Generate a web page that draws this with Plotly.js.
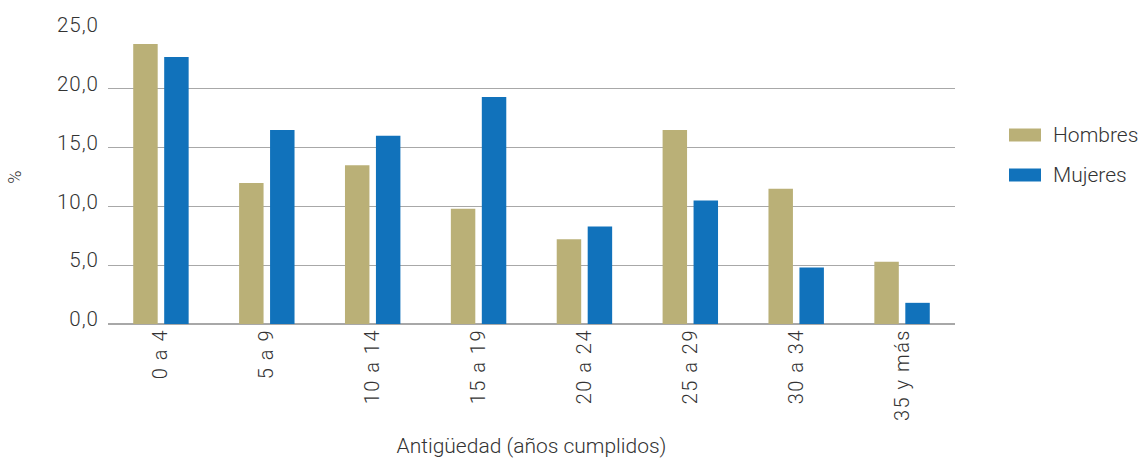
<!DOCTYPE html>
<html>
<head>
<meta charset="utf-8">
<script src="https://cdn.plot.ly/plotly-3.0.1.min.js"></script>
<style>
html,body{margin:0;padding:0;background:#fff;}
#chart{width:1140px;height:459px;}
#chart .xtick text{letter-spacing:1.5px;}
#chart .ytick text{letter-spacing:1px;}
</style>
</head>
<body>
<div id="chart"></div>
<script>
const categories = ["0 a 4", "5 a 9", "10 a 14", "15 a 19", "20 a 24", "25 a 29", "30 a 34", "35 y más"];
const hombres = [23.8, 12.0, 13.5, 9.8, 7.2, 16.5, 11.5, 5.3];
const mujeres = [22.7, 16.5, 16.0, 19.3, 8.3, 10.5, 4.8, 1.8];
const yTicks = [0, 5, 10, 15, 20, 25];
const seriesNames = ["Hombres", "Mujeres"];
const seriesColors = ["#BAB077", "#1172BB"];

const fontFam = "Roboto, 'Open Sans', sans-serif";
const textColor = "#333";
const traces = [
  {type: "bar", name: seriesNames[0], x: categories, y: hombres, marker: {color: seriesColors[0]}},
  {type: "bar", name: seriesNames[1], x: categories, y: mujeres, marker: {color: seriesColors[1]}}
];

// custom legend (larger swatches like the reference)
const plotL = 108, plotW = 847, plotB = 324, plotH = 294;
const px2x = p => (p - plotL) / plotW;
const px2y = p => (plotB - p) / plotH;
const legendRows = [135, 175];
const shapes = [], annotations = [];
seriesNames.forEach((n, i) => {
  const cy = legendRows[i];
  shapes.push({type: "rect", xref: "paper", yref: "paper",
    x0: px2x(1009), x1: px2x(1041), y0: px2y(cy + 6.5), y1: px2y(cy - 6.5),
    line: {width: 0}, fillcolor: seriesColors[i]});
  annotations.push({xref: "paper", yref: "paper", x: px2x(1051), y: px2y(cy),
    xanchor: "left", yanchor: "middle", showarrow: false, text: n,
    font: {size: 21, color: textColor, family: fontFam, weight: 300}});
});

const layout = {
  width: 1140, height: 459,
  margin: {l: 108, r: 185, t: 30, b: 135},
  paper_bgcolor: "#fff", plot_bgcolor: "#fff",
  font: {family: fontFam, color: textColor, size: 20, weight: 300},
  separators: ",.",
  barmode: "group",
  bargap: 0.415,
  bargroupgap: 0.21,
  showlegend: false,
  shapes: shapes,
  annotations: annotations,
  xaxis: {
    type: "category",
    tickangle: -90,
    tickfont: {size: 20, color: textColor, weight: 300},
    showgrid: false, showline: false, ticks: "",
    title: {text: "Antigüedad (años cumplidos)", font: {size: 21, color: textColor, weight: 300}, standoff: 30}
  },
  yaxis: {
    range: [0, 25],
    tickvals: yTicks,
    tickformat: ".1f",
    tickfont: {size: 20.5, color: textColor, weight: 300},
    ticklabelstandoff: 8,
    ticklabelshift: -5,
    showgrid: true, gridcolor: "#a8a8a8", gridwidth: 1.3,
    zeroline: true, zerolinecolor: "#a8a8a8", zerolinewidth: 1.3,
    ticks: "", ticklen: 0,
    title: {text: "%", font: {size: 18, color: textColor, weight: 300}, standoff: 34}
  }
};
Plotly.newPlot("chart", traces, layout, {displayModeBar: false, staticPlot: true});
</script>
</body>
</html>
